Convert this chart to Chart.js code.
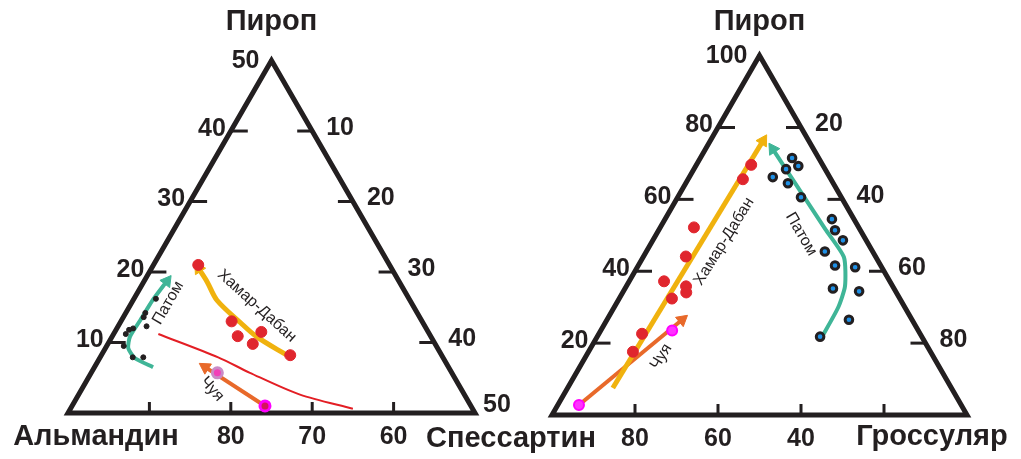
<!DOCTYPE html>
<html>
<head>
<meta charset="utf-8">
<script src="https://cdn.jsdelivr.net/npm/chart.js"></script>
<style>
  html, body { margin: 0; padding: 0; background: #fff; width: 1021px; height: 459px; overflow: hidden; }
  .box { position: absolute; top: 0; height: 459px; }
</style>
</head>
<body>
<div class="box" style="left:0;width:520px"><canvas id="left" width="520" height="459"></canvas></div>
<div class="box" style="left:420px;width:601px"><canvas id="right" width="601" height="459"></canvas></div>
<script>
// ---- left diagram: Альмандин - Пироп (0..50) - Спессартин (0..50), mol %
var leftPyTicks = [10, 20, 30, 40];
var leftSpsTicks = [10, 20, 30, 40];
var leftAlmTicks = [90, 80, 70, 60];
var leftAlmLabels = [80, 70, 60];

var hdPy  = [21.0, 13.0, 11.5, 10.9, 9.8, 8.2];
var hdSps = [5.5, 13.6, 18.0, 15.4, 17.8, 23.2];
var hdTrendPy  = [8.2, 10.8, 12.8, 16.0, 18.6, 20.5];
var hdTrendSps = [22.8, 17.8, 14.8, 10.3, 7.8, 5.8];

var borderPy  = [11.2, 7.9, 5.7, 2.6, 0.6];
var borderSps = [5.5, 14.5, 19.5, 27.2, 34.7];

var chuyaPy  = [1.0, 5.7];
var chuyaSps = [23.7, 15.5];
var chuyaTrendPy  = [1.0, 6.5];
var chuyaTrendSps = [23.7, 13.6];

var patomPy  = [16.2, 14.2, 13.6, 12.3, 12.0, 11.8, 11.2, 9.5, 7.9, 7.9];
var patomSps = [2.7, 2.4, 2.5, 3.5, 2.0, 1.6, 1.5, 2.1, 4.0, 5.3];
var patomTrendPy  = [6.5, 7.8, 9.2, 10.8, 13.2, 16.0, 18.7];
var patomTrendSps = [7.2, 4.3, 2.8, 2.2, 2.3, 2.4, 2.8];

// ---- right diagram: Спессартин - Пироп - Гроссуляр, mol %
var rightPyTicks = [20, 40, 60, 80];
var rightGrsTicks = [20, 40, 60, 80];
var rightSpsTicks = [80, 60, 40, 20];
var rightSpsLabels = [80, 60, 40];

var hd2Py  = [69.6, 65.6, 52.2, 44.1, 37.2, 35.8, 34.1, 32.4, 22.6, 17.6];
var hd2Grs = [13.2, 13.2, 8.1, 10.2, 8.4, 14.4, 15.3, 12.7, 10.4, 10.7];
var hd2TrendPy  = [7.5, 76.3];
var hd2TrendGrs = [10.9, 12.7];

var chuya2Py  = [2.8, 23.5];
var chuya2Grs = [5.1, 17.2];
var chuya2TrendPy  = [2.8, 26.5];
var chuya2TrendGrs = [5.1, 18.1];

var patom2Py  = [71.5, 69.3, 68.4, 66.2, 64.5, 60.6, 54.5, 51.4, 48.6, 45.5, 41.6, 41.1, 35.2, 34.4, 26.5, 21.8];
var patom2Grs = [22.1, 24.7, 22.2, 20.1, 24.6, 29.7, 40.2, 42.5, 45.8, 43.0, 47.4, 52.5, 50.1, 56.8, 58.3, 53.7];
var patom2TrendPy  = [21.8, 29.9, 35.8, 43.9, 51.7, 74.0];
var patom2TrendGrs = [54.2, 54.0, 52.7, 48.4, 40.0, 16.2];

var INK = '#231f20';
var FONT = '"Liberation Sans", Arial, sans-serif';
var SQ = Math.sqrt(3) / 2;

// ternary -> cartesian, base of the triangle = 1
function tern(py, b, max) {
  return { x: (b + py / 2) / max, y: py / max * SQ };
}
function pts(py, b, max) {
  return py.map(function (p, i) { return tern(p, b[i], max); });
}

function frameSet(max) {
  var a = tern(0, 0, max), t = tern(max, 0, max), c = tern(0, max, max);
  return {
    data: [a, t, c, a, t], showLine: true, borderColor: INK, borderWidth: 5,
    borderJoinStyle: 'miter', pointRadius: 0, order: 10
  };
}

function arrowSet(py, b, max, color, width, tension) {
  var p = pts(py, b, max), n = p.length;
  var rot = Math.atan2(p[n - 1].x - p[n - 2].x, p[n - 1].y - p[n - 2].y) * 180 / Math.PI;
  return {
    data: p, showLine: true, borderColor: color, borderWidth: width, tension: tension || 0,
    pointRadius: p.map(function (_, i) { return i === n - 1 ? 7 : 0; }),
    pointStyle: 'triangle', pointRotation: rot,
    pointBackgroundColor: color, pointBorderColor: color, pointBorderWidth: 1, order: 5
  };
}

function lineSet(py, b, max, color, width) {
  return { data: pts(py, b, max), showLine: true, borderColor: color, borderWidth: width, tension: 0.3, pointRadius: 0, order: 6 };
}

function dotSet(py, b, max, fill, ring, r, bw) {
  return {
    data: pts(py, b, max), showLine: false, pointRadius: r, pointBackgroundColor: fill,
    pointBorderColor: ring, pointBorderWidth: bw, order: 1
  };
}

function txt(ctx, s, x, y, align, font, rot) {
  ctx.save();
  ctx.translate(x, y);
  if (rot) ctx.rotate(rot * Math.PI / 180);
  ctx.font = font;
  ctx.textAlign = align;
  ctx.textBaseline = 'middle';
  ctx.fillStyle = INK;
  ctx.fillText(s, 0, 0);
  ctx.restore();
}

function seg(ctx, x1, y1, x2, y2) {
  ctx.beginPath(); ctx.moveTo(x1, y1); ctx.lineTo(x2, y2); ctx.stroke();
}

// ticks, numbers, corner names and trend names
function framePlugin(spec) {
  return {
    id: 'frame',
    afterDraw: function (chart) {
      var ctx = chart.ctx, m = spec.max;
      var P = function (py, b) {
        var t = tern(py, b, m);
        return { x: chart.scales.x.getPixelForValue(t.x), y: chart.scales.y.getPixelForValue(t.y) };
      };
      var num = 'bold 25px ' + FONT, big = 'bold 29px ' + FONT, small = '16px ' + FONT;
      ctx.save();
      ctx.strokeStyle = INK; ctx.lineWidth = 3;
      spec.pyTicks.forEach(function (v) {
        var p = P(v, 0);
        seg(ctx, p.x, p.y, p.x + 17, p.y);
        txt(ctx, String(v), p.x - 5, p.y - 2, 'right', num);
      });
      spec.sideTicks.forEach(function (v) {
        var p = P(m - v, v);
        seg(ctx, p.x - 15, p.y, p.x + 1, p.y);
        txt(ctx, String(v), p.x + 14, p.y - 3, 'left', num);
      });
      spec.baseTicks.forEach(function (v) {
        var p = P(0, 100 - v);
        seg(ctx, p.x, p.y, p.x, p.y - 11);
      });
      spec.baseLabels.forEach(function (v) {
        var p = P(0, 100 - v);
        txt(ctx, String(v), p.x, p.y + 24, 'center', num);
      });
      var top = P(m, 0), lft = P(0, 0), rgt = P(0, m);
      txt(ctx, spec.topNum, top.x - 12, top.y + 1, 'right', num);
      txt(ctx, 'Пироп', top.x, 22, 'center', big);
      txt(ctx, spec.leftName, lft.x + spec.leftNameDx, lft.y + 24, 'center', big);
      if (spec.rightNum) txt(ctx, spec.rightNum, rgt.x + 8, rgt.y - 8, 'left', num);
      if (spec.rightName) txt(ctx, spec.rightName, rgt.x - 35, rgt.y + 22, 'center', big);
      spec.names.forEach(function (n) {
        var p = P(n[1], n[2]);
        txt(ctx, n[0], p.x, p.y, 'center', small, n[3]);
      });
      ctx.restore();
    }
  };
}

function makeChart(id, spec, datasets, ox, oy, base, w) {
  new Chart(document.getElementById(id), {
    type: 'scatter',
    data: { datasets: datasets },
    options: {
      responsive: false, animation: false, events: [],
      layout: { padding: 0, autoPadding: false },
      plugins: { legend: { display: false }, tooltip: { enabled: false } },
      scales: {
        x: { type: 'linear', display: false, min: -ox / base, max: (w - ox) / base },
        y: { type: 'linear', display: false, min: -(459 - oy) / base, max: oy / base }
      }
    },
    plugins: [framePlugin(spec)]
  });
}

makeChart('left', {
  max: 50, pyTicks: leftPyTicks, sideTicks: leftSpsTicks, baseTicks: leftAlmTicks, baseLabels: leftAlmLabels,
  topNum: '50', rightNum: '50', leftName: 'Альмандин', leftNameDx: 28, rightName: null,
  names: [['Патом', 15.6, 4.5, -60], ['Хамар-Дабан', 15.2, 15.6, 42], ['Чуя', 3.4, 16.0, 48]]
}, [
  frameSet(50),
  lineSet(borderPy, borderSps, 50, '#e31e24', 2),
  arrowSet(hdTrendPy, hdTrendSps, 50, '#f0b20e', 5, 0.3),
  arrowSet(patomTrendPy, patomTrendSps, 50, '#3fb597', 4, 0.2),
  arrowSet(chuyaTrendPy, chuyaTrendSps, 50, '#e8692a', 4),
  dotSet(hdPy, hdSps, 50, '#e0262e', '#e0262e', 5.5, 1),
  dotSet(patomPy, patomSps, 50, INK, INK, 2.5, 1),
  dotSet(chuyaPy.slice(0, 1), chuyaSps.slice(0, 1), 50, '#d4145a', '#ff00ff', 5, 3),
  dotSet(chuyaPy.slice(1), chuyaSps.slice(1), 50, '#f23fb8', '#c98bc6', 5, 3)
], 68, 413, 407, 520);

makeChart('right', {
  max: 100, pyTicks: rightPyTicks, sideTicks: rightGrsTicks, baseTicks: rightSpsTicks, baseLabels: rightSpsLabels,
  topNum: '100', rightNum: null, leftName: 'Спессартин', leftNameDx: -41, rightName: 'Гроссуляр',
  names: [['Хамар-Дабан', 48.3, 17.3, -58], ['Чуя', 16.2, 18.2, -58], ['Патом', 50.3, 34.9, 60]]
}, [
  frameSet(100),
  arrowSet(hd2TrendPy, hd2TrendGrs, 100, '#f0b20e', 5),
  arrowSet(chuya2TrendPy, chuya2TrendGrs, 100, '#e8692a', 4),
  arrowSet(patom2TrendPy, patom2TrendGrs, 100, '#3fb597', 4, 0.2),
  dotSet(hd2Py, hd2Grs, 100, '#e0262e', '#e0262e', 5.5, 1),
  dotSet(chuya2Py, chuya2Grs, 100, '#ff33ff', '#ff00ff', 5, 2),
  dotSet(patom2Py, patom2Grs, 100, '#1e90e6', INK, 3.8, 3)
], 132, 415, 415, 601);
</script>
</body>
</html>
